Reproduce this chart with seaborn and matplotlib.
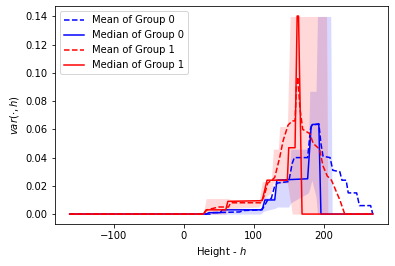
import numpy as np
import matplotlib
matplotlib.use("Agg")
import matplotlib.pyplot as plt
import seaborn as sns

# Group 0 (blue)
h_mean0 = [-163, 38, 42, 80, 85, 110, 113, 120, 125, 130, 134, 150, 155, 158, 177, 181, 183, 193, 196, 199, 209, 213, 223, 226, 232, 235, 247, 251, 267, 270]
v_mean0 = [0, 0, 0.001, 0.0015, 0.0025, 0.003, 0.004, 0.010, 0.011, 0.020, 0.022, 0.023, 0.036, 0.040, 0.040, 0.060, 0.063, 0.064, 0.050, 0.041, 0.040, 0.031, 0.030, 0.024, 0.024, 0.015, 0.015, 0.006, 0.006, 0]

h_med0 = [-163, 32, 36, 52, 55, 112, 116, 130, 133, 177, 182, 184, 193, 196, 270]
v_med0 = [0, 0, 0.001, 0.001, 0.003, 0.003, 0.010, 0.010, 0.024, 0.025, 0.062, 0.0635, 0.0635, 0, 0]

h_band0 = [-163, 35, 40, 110, 114, 130, 134, 150, 153, 178, 180, 183, 189, 191, 210, 212, 270]
lo_band0 = [0, 0, 0, 0, 0.002, 0.004, 0.005, 0.005, 0.008, 0.015, 0.018, 0.024, 0.012, 0, 0, 0, 0]
hi_band0 = [0, 0, 0.002, 0.004, 0.012, 0.012, 0.025, 0.025, 0.046, 0.046, 0.087, 0.087, 0.087, 0.14, 0.14, 0, 0]

# Group 1 (red)
h_mean1 = [-163, 28, 33, 50, 64, 67, 110, 115, 120, 126, 130, 137, 142, 149, 155, 159, 161, 163, 166, 170, 180, 185, 194, 199, 205, 211, 223, 230, 270]
v_mean1 = [0, 0, 0.003, 0.005, 0.005, 0.008, 0.008, 0.013, 0.022, 0.024, 0.026, 0.040, 0.052, 0.063, 0.066, 0.066, 0.090, 0.097, 0.075, 0.060, 0.057, 0.050, 0.046, 0.034, 0.027, 0.024, 0.010, 0, 0]

h_med1 = [-163, 28, 32, 60, 63, 112, 119, 148, 150, 159, 162, 164, 169, 270]
v_med1 = [0, 0, 0.003, 0.003, 0.009, 0.0095, 0.024, 0.024, 0.047, 0.047, 0.1403, 0.1403, 0, 0]

h_band1 = [-163, 28, 32, 60, 63, 70, 108, 112, 125, 128, 135, 137, 148, 152, 155, 204, 206, 270]
lo_band1 = [0, 0, 0, 0, 0.004, 0.004, 0.005, 0.010, 0.015, 0.022, 0.022, 0.022, 0.022, 0.010, 0, 0, 0, 0]
hi_band1 = [0, 0, 0.011, 0.011, 0.011, 0.010, 0.010, 0.023, 0.023, 0.046, 0.046, 0.062, 0.062, 0.14, 0.14, 0.14, 0, 0]

fig = plt.figure(figsize=(395 / 72, 266 / 72), dpi=72)
ax = fig.add_axes([0.138, 0.158, 0.844, 0.819])

ax.fill_between(h_band0, lo_band0, hi_band0, color="blue", alpha=0.15, linewidth=0)
ax.fill_between(h_band1, lo_band1, hi_band1, color="red", alpha=0.15, linewidth=0)

sns.lineplot(x=h_mean0, y=v_mean0, color="blue", linestyle="--", label="Mean of Group 0",
             sort=False, estimator=None, ax=ax)
sns.lineplot(x=h_med0, y=v_med0, color="blue", label="Median of Group 0",
             sort=False, estimator=None, ax=ax)
sns.lineplot(x=h_mean1, y=v_mean1, color="red", linestyle="--", label="Mean of Group 1",
             sort=False, estimator=None, ax=ax)
sns.lineplot(x=h_med1, y=v_med1, color="red", label="Median of Group 1",
             sort=False, estimator=None, ax=ax)

ax.set_xlabel("Height - $h$")
ax.set_ylabel(r"$var(\cdot, h)$")
ax.legend(loc="upper left")

fig.savefig("out.png", dpi=72)
